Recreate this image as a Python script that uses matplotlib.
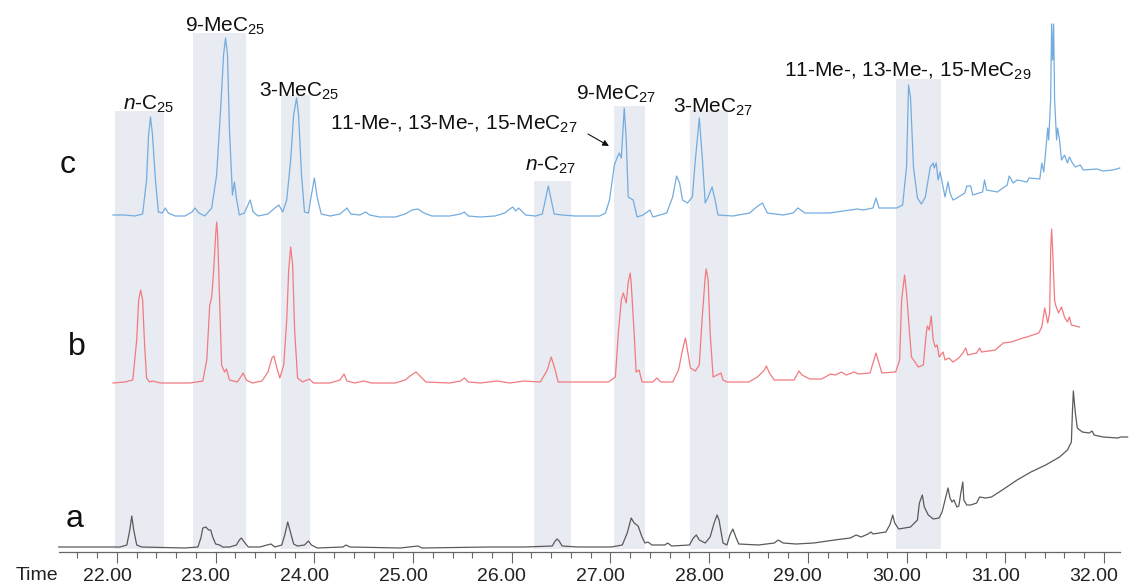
import matplotlib
matplotlib.use('Agg')
import matplotlib.pyplot as plt
import matplotlib.transforms as mtransforms
import numpy as np

plt.rcParams['font.family'] = ['Liberation Sans', 'DejaVu Sans']
plt.rcParams['mathtext.fontset'] = 'custom'
plt.rcParams['mathtext.rm'] = 'Liberation Sans'
plt.rcParams['mathtext.it'] = 'Liberation Sans:italic'

# --- chromatogram c (blue) : retention time (min), signal above baseline
c_time = [21.96, 22.08, 22.18, 22.26, 22.30, 22.32, 22.34, 22.36, 22.39, 22.42, 22.46, 22.49, 22.52, 22.59,
          22.69, 22.76, 22.79, 22.83, 22.89, 22.96, 23.01, 23.05, 23.08, 23.10, 23.12, 23.14, 23.17, 23.19,
          23.21, 23.24, 23.29, 23.35, 23.38, 23.43, 23.53, 23.60, 23.64, 23.68, 23.72, 23.76, 23.79, 23.82,
          23.84, 23.87, 23.90, 23.94, 23.97, 24.00, 24.03, 24.07, 24.16, 24.26, 24.33, 24.37, 24.46, 24.52,
          24.56, 24.66, 24.82, 24.92, 24.99, 25.05, 25.11, 25.19, 25.37, 25.48, 25.52, 25.56, 25.68, 25.83,
          25.93, 25.98, 26.01, 26.04, 26.07, 26.10, 26.14, 26.24, 26.31, 26.34, 26.37, 26.40, 26.43, 26.51,
          26.64, 26.79, 26.89, 26.95, 26.99, 27.04, 27.07, 27.09, 27.11, 27.14, 27.16, 27.18, 27.23, 27.27,
          27.33, 27.40, 27.43, 27.57, 27.63, 27.67, 27.70, 27.73, 27.78, 27.83, 27.86, 27.90, 27.93, 27.96,
          27.99, 28.03, 28.06, 28.09, 28.24, 28.41, 28.48, 28.54, 28.59, 28.75, 28.85, 28.90, 28.97, 29.22,
          29.43, 29.50, 29.56, 29.66, 29.69, 29.72, 29.90, 29.96, 30.00, 30.02, 30.04, 30.07, 30.11, 30.15,
          30.19, 30.24, 30.27, 30.28, 30.30, 30.32, 30.34, 30.37, 30.39, 30.42, 30.44, 30.47, 30.51, 30.59,
          30.61, 30.65, 30.67, 30.77, 30.79, 30.81, 30.92, 31.02, 31.04, 31.08, 31.12, 31.22, 31.24, 31.35,
          31.37, 31.39, 31.42, 31.43, 31.44, 31.46, 31.47, 31.48, 31.49, 31.50, 31.52, 31.53, 31.55, 31.57,
          31.60, 31.63, 31.65, 31.68, 31.71, 31.76, 31.79, 31.93, 31.99, 32.09, 32.16]
c_signal = [0, 0, -1, 1, 35, 80, 98, 80, 35, 3, 2, 7, 2, -1,
            -1, 3, 7, 2, -1, 7, 40, 105, 160, 177, 160, 85, 20, 33,
            17, 0, 2, 15, 3, -1, 1, 7, 10, 3, 15, 55, 100, 117,
            100, 40, 3, 2, 20, 37, 17, 1, -1, 1, 7, 1, 0, 3,
            0, -2, -2, 1, 5, 6, 2, -1, -1, 1, 3, -1, -2, -1,
            2, 6, 8, 4, 7, 4, 0, -1, 1, 15, 29, 15, 1, 0,
            -1, -1, -1, 2, 15, 50, 58, 62, 57, 107, 75, 18, 15, -2,
            0, 5, -2, 2, 18, 39, 32, 15, 12, 18, 55, 97, 58, 12,
            18, 28, 15, 0, -1, 2, 8, 12, 2, 0, 2, 7, 2, 2,
            5, 6, 5, 7, 17, 7, 7, 10, 48, 130, 118, 48, 17, 11,
            18, 48, 52, 47, 52, 35, 43, 28, 18, 33, 22, 15, 17, 22,
            29, 29, 20, 23, 35, 25, 23, 30, 39, 32, 35, 33, 37, 36,
            52, 43, 75, 87, 75, 115, 191, 155, 191, 115, 75, 87, 75, 55,
            60, 52, 58, 52, 48, 50, 45, 46, 44, 45, 47]

# --- chromatogram b (red)
b_time = [21.96, 22.08, 22.16, 22.20, 22.22, 22.24, 22.26, 22.28, 22.30, 22.33, 22.36, 22.44, 22.74, 22.87,
          22.91, 22.94, 22.96, 22.98, 23.00, 23.01, 23.02, 23.04, 23.06, 23.09, 23.11, 23.14, 23.22, 23.26,
          23.28, 23.31, 23.37, 23.47, 23.53, 23.57, 23.59, 23.62, 23.65, 23.69, 23.72, 23.74, 23.76, 23.78,
          23.80, 23.83, 23.88, 23.95, 23.99, 24.16, 24.26, 24.30, 24.33, 24.41, 24.50, 24.58, 24.82, 24.92,
          24.97, 25.03, 25.08, 25.13, 25.37, 25.48, 25.52, 25.56, 25.68, 25.85, 25.98, 26.12, 26.29, 26.36,
          26.40, 26.44, 26.47, 26.69, 26.98, 27.05, 27.08, 27.11, 27.13, 27.16, 27.18, 27.20, 27.21, 27.24,
          27.26, 27.29, 27.32, 27.43, 27.47, 27.51, 27.63, 27.69, 27.73, 27.76, 27.78, 27.81, 27.86, 27.90,
          27.93, 27.96, 27.97, 27.99, 28.01, 28.04, 28.08, 28.12, 28.14, 28.18, 28.40, 28.49, 28.56, 28.58,
          28.61, 28.66, 28.86, 28.91, 28.94, 29.02, 29.14, 29.23, 29.28, 29.34, 29.39, 29.47, 29.51, 29.63,
          29.66, 29.69, 29.72, 29.75, 29.89, 29.93, 29.95, 29.98, 30.00, 30.03, 30.05, 30.12, 30.17, 30.20,
          30.21, 30.23, 30.25, 30.27, 30.29, 30.31, 30.33, 30.37, 30.39, 30.43, 30.47, 30.53, 30.57, 30.60,
          30.62, 30.71, 30.74, 30.76, 30.90, 30.98, 31.06, 31.18, 31.22, 31.34, 31.37, 31.40, 31.43, 31.45,
          31.46, 31.47, 31.48, 31.50, 31.51, 31.54, 31.57, 31.60, 31.63, 31.65, 31.67, 31.71, 31.75]
b_signal = [-1, 0, 2, 42, 82, 92, 82, 37, 4, 0, 1, -1, -1, 1,
            22, 77, 85, 112, 147, 160, 147, 82, 17, 10, 13, 2, 0, 6,
            9, 2, -1, 1, 10, 24, 26, 14, 4, 17, 62, 112, 135, 117,
            52, 4, 0, 3, -1, -1, 2, 8, 1, -1, 1, -1, -1, 2,
            6, 10, 5, 0, -1, 1, 4, 0, -1, 1, -1, 1, 0, 12,
            25, 12, 0, 0, 0, 5, 49, 82, 89, 79, 100, 109, 99, 49,
            10, 12, 0, 0, 4, 0, 0, 12, 32, 44, 32, 14, 11, 17,
            65, 105, 113, 102, 49, 5, 7, 9, 2, 0, 0, 5, 12, 16,
            9, 2, 2, 11, 7, 3, 3, 8, 7, 10, 7, 10, 8, 9,
            19, 29, 19, 9, 10, 22, 82, 107, 89, 49, 25, 15, 17, 49,
            56, 52, 66, 42, 35, 37, 25, 30, 22, 24, 20, 24, 29, 34,
            27, 29, 34, 30, 32, 39, 40, 44, 45, 49, 55, 74, 59, 69,
            132, 153, 132, 82, 77, 69, 75, 65, 60, 65, 57, 56, 55]

# --- chromatogram a (grey)
a_time = [21.41, 21.83, 22.03, 22.10, 22.13, 22.15, 22.17, 22.20, 22.25, 22.69, 22.82, 22.85, 22.87, 22.90,
          22.93, 22.95, 22.97, 23.00, 23.04, 23.07, 23.14, 23.21, 23.24, 23.26, 23.29, 23.33, 23.45, 23.52,
          23.56, 23.60, 23.67, 23.70, 23.73, 23.76, 23.79, 23.83, 23.90, 23.94, 23.97, 24.03, 24.29, 24.32,
          24.36, 24.87, 25.05, 25.09, 25.78, 26.13, 26.41, 26.44, 26.46, 26.48, 26.51, 26.67, 27.01, 27.12,
          27.17, 27.21, 27.24, 27.28, 27.32, 27.35, 27.38, 27.42, 27.55, 27.58, 27.62, 27.80, 27.84, 27.87,
          27.90, 27.96, 28.01, 28.05, 28.08, 28.10, 28.14, 28.18, 28.21, 28.24, 28.27, 28.30, 28.50, 28.66,
          28.70, 28.75, 28.88, 29.06, 29.27, 29.43, 29.49, 29.54, 29.61, 29.64, 29.66, 29.79, 29.83, 29.86,
          29.88, 29.92, 30.04, 30.11, 30.13, 30.16, 30.18, 30.22, 30.27, 30.33, 30.36, 30.39, 30.42, 30.44,
          30.46, 30.48, 30.51, 30.53, 30.55, 30.57, 30.58, 30.61, 30.65, 30.71, 30.74, 30.80, 30.86, 30.97,
          31.12, 31.26, 31.41, 31.55, 31.63, 31.67, 31.68, 31.69, 31.71, 31.73, 31.78, 31.85, 31.88, 31.90,
          31.99, 32.14, 32.17, 32.24]
a_signal = [1, 1, 1, 3, 18, 32, 18, 3, 1, 0, 1, 10, 20, 21,
            18, 18, 11, 4, 3, 1, 1, 3, 8, 10, 6, 1, 1, 3,
            4, 1, 3, 13, 26, 15, 4, 2, 3, 7, 3, 0, 1, 3,
            1, 0, 2, 0, 1, 1, 2, 7, 9, 7, 2, 1, 1, 3,
            15, 30, 25, 22, 11, 5, 6, 3, 3, 5, 2, 3, 10, 13,
            8, 5, 11, 25, 33, 28, 5, 3, 13, 19, 11, 4, 3, 5,
            8, 5, 4, 5, 8, 10, 13, 11, 14, 16, 14, 16, 23, 33,
            25, 19, 21, 28, 45, 53, 41, 33, 29, 30, 36, 48, 60, 50,
            46, 48, 41, 42, 55, 66, 48, 43, 43, 45, 51, 50, 51, 58,
            68, 76, 83, 91, 98, 106, 135, 157, 135, 120, 116, 115, 117, 113,
            111, 110, 111, 111]

# --- highlighted compound windows (start, end, top)
zone_start = [21.98, 22.77, 23.66, 26.23, 27.04, 27.81, 29.89]
zone_end = [22.48, 23.31, 23.96, 26.60, 27.35, 28.19, 30.35]
zone_top = [441, 519, 457, 371, 446, 442, 473]

# --- compound labels
peak_labels = ['$n$-C$_{25}$', '9-MeC$_{25}$', '3-MeC$_{25}$', '$n$-C$_{27}$',
               '9-MeC$_{27}$', '3-MeC$_{27}$', '11-Me-, 13-Me-, 15-MeC$_{29}$']
label_x = [22.32, 23.10, 23.85, 26.39, 27.06, 28.04, 30.01]
label_y = [442, 520, 455, 381, 452, 439, 475]

arrow_label = '11-Me-, 13-Me-, 15-MeC$_{27}$'

traces = ['a', 'b', 'c']
x_ticks = [22, 23, 24, 25, 26, 27, 28, 29, 30, 31, 32]
x_ticklabels = ['22.00', '23.00', '24.00', '25.00', '26.00', '27.00', '28.00', '29.00', '30.00', '31.00', '32.00']

fig = plt.figure(figsize=(11.31, 5.88), dpi=100)
ax = fig.add_axes([0, 36 / 588, 1, 552 / 588])
ax.set_xlim(20.815, 32.274)
ax.set_ylim(0, 552)

# grey boxes behind the traces
ax.bar(zone_start, np.array(zone_top) - 3, width=np.array(zone_end) - np.array(zone_start),
       bottom=3, align='edge', color='#e8ebf1', edgecolor='none', zorder=0)

offsets = {'a': 4, 'b': 170, 'c': 337}
ax.plot(a_time, np.array(a_signal) + offsets['a'], color='#5a5a5a', lw=0.9, zorder=2)
ax.plot(b_time, np.array(b_signal) + offsets['b'], color='#f27a80', lw=0.9, zorder=2)
ax.plot(c_time, np.array(c_signal) + offsets['c'], color='#74acdf', lw=0.9, zorder=2)

for lab, x, y in zip(peak_labels, label_x, label_y):
    ax.text(x, y, lab, ha='center', va='baseline', fontsize=15, color='#111111', zorder=3)

ax.annotate('', xy=(26.985, 406), xytext=(26.772, 418),
            arrowprops=dict(arrowstyle='-|>', color='#111111', lw=0.8, mutation_scale=9,
                            shrinkA=0, shrinkB=0))
ax.text(24.16, 422, arrow_label, ha='left', va='baseline', fontsize=15, color='#111111', zorder=3)

# trace letters
for name, x, y in zip(traces, [21.57, 21.59, 21.50], [25, 197, 379]):
    ax.text(x, y, name, ha='center', va='baseline', fontsize=23, color='#111111')

# axis
for s in ['top', 'right', 'left']:
    ax.spines[s].set_visible(False)
ax.spines['bottom'].set_bounds(21.41, 32.16)
ax.spines['bottom'].set_color('#666666')
ax.spines['bottom'].set_linewidth(0.9)
ax.set_yticks([])
ax.set_xticks(x_ticks)
ax.set_xticklabels(x_ticklabels)
ax.set_xticks(np.arange(21.6, 32.0, 0.2), minor=True)
ax.tick_params(axis='x', which='major', length=8, width=0.8, color='#666666',
               labelsize=14, pad=3.5, labelcolor='#222222')
ax.tick_params(axis='x', which='minor', length=4.5, width=0.8, color='#666666')
shift = mtransforms.ScaledTranslation(-10 / 100, 0, fig.dpi_scale_trans)
for lab in ax.get_xticklabels():
    lab.set_transform(lab.get_transform() + shift)
ax.patch.set_visible(False)

fig.text(37 / 1131, 8 / 588, 'Time', ha='center', va='baseline', fontsize=14, color='#222222')

fig.savefig('out.png', dpi=100)
